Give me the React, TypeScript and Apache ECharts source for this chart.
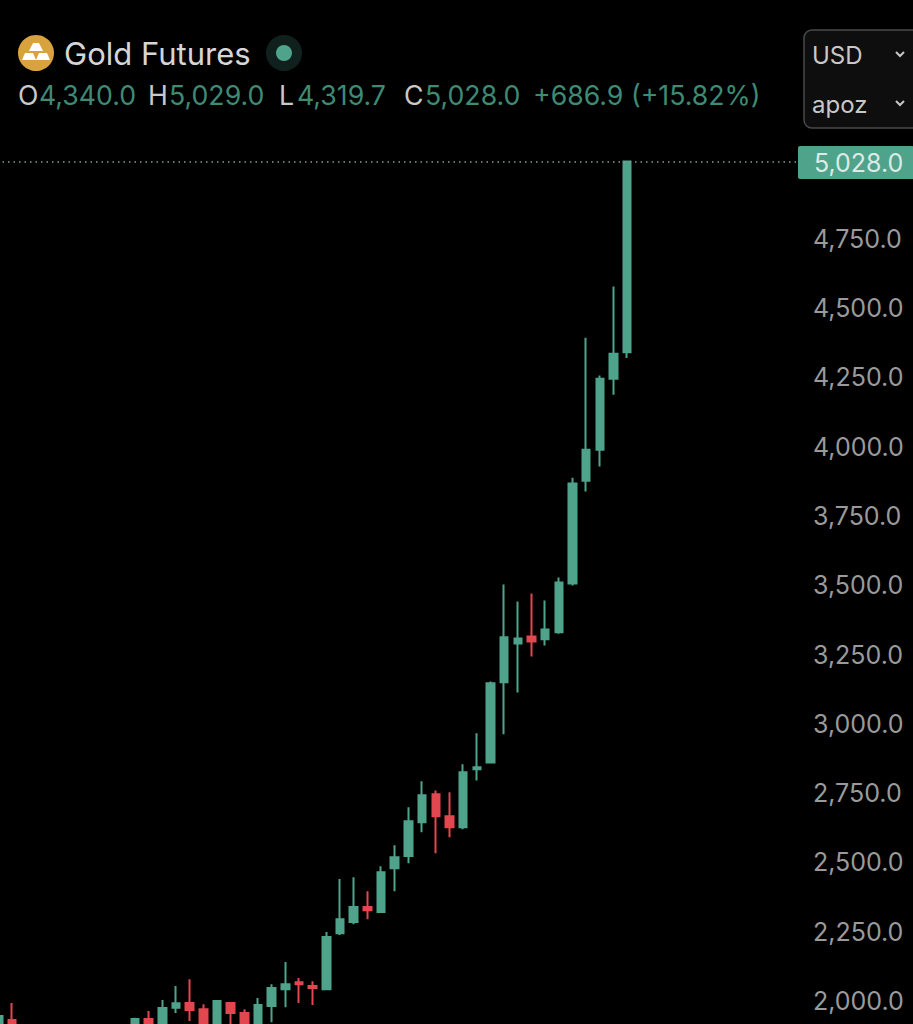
import React, { useEffect, useRef } from "react";
import * as echarts from "echarts";

const categories = [
  "2022-03","2022-04","2022-05","2022-06","2022-07","2022-08","2022-09","2022-10","2022-11","2022-12",
  "2023-01","2023-02","2023-03","2023-04","2023-05","2023-06","2023-07","2023-08","2023-09","2023-10","2023-11","2023-12",
  "2024-01","2024-02","2024-03","2024-04","2024-05","2024-06","2024-07","2024-08","2024-09","2024-10","2024-11","2024-12",
  "2025-01","2025-02","2025-03","2025-04","2025-05","2025-06","2025-07","2025-08","2025-09","2025-10","2025-11","2025-12",
  "2026-01","2026-02","2026-03","2026-04","2026-05","2026-06","2026-07","2026-08","2026-09","2026-10","2026-11","2026-12","2027-01",
];

const N = null;
const opens = [1900,1932,N,N,N,N,N,N,N,N,1900,1935,1900,1976,1993,1971,1900,1993,1957,1900,1982,2043,2068,2054,2043,2245,2285,2339,2321,2479,2523,2645,2746,2667,2627,2836,2861,3150,3290,3315,3305,3330,3506,3877,3989,4245,4340];
const closes = [1946,1880,N,N,N,N,N,N,N,N,1935,1900,1975,1992,1968,1900,2000,1957,1900,1986,2047,2061,2061,2047,2231,2295,2339,2328,2465,2519,2649,2742,2667,2627,2825,2843,3146,3312,3308,3297,3340,3510,3867,3989,4245,4335,5028];
const lows = [1880,1860,N,N,N,N,N,N,N,N,1890,1880,1880,1957,1928,1880,1890,1900,1890,1890,1924,1978,1993,1986,2040,2238,2277,2295,2318,2396,2497,2609,2533,2591,2620,2796,2858,2962,3113,3243,3283,3325,3499,3838,3928,4187,4319.7];
const highs = [1950,1993,N,N,N,N,N,N,N,N,1940,1964,2004,2054,2079,1989,2001,1993,1971,2011,2061,2141,2083,2072,2249,2440,2447,2396,2486,2562,2699,2793,2760,2753,2854,2966,3153,3503,3441,3470,3445,3528,3888,4393,4256,4577,5029];

const LAST_PRICE = 5028;
const UP = "#4fa38b";
const DOWN = "#e2474f";
const FONT = "Inter, 'Noto Sans', sans-serif";

const header = [
  { t: "O", x: 18, c: "#c9c9c9" },
  { t: "4,340.0", x: 39, c: "#3f8a73" },
  { t: "H", x: 148, c: "#c9c9c9" },
  { t: "5,029.0", x: 169, c: "#3f8a73" },
  { t: "L", x: 279, c: "#c9c9c9" },
  { t: "4,319.7", x: 297, c: "#3f8a73" },
  { t: "C", x: 404, c: "#c9c9c9" },
  { t: "5,028.0", x: 425, c: "#3f8a73" },
  { t: "+686.9 (+15.82%)", x: 533, c: "#3f8a73" },
];

export default function App() {
  const ref = useRef<HTMLDivElement>(null);
  useEffect(() => {
    document.body.style.margin = "0";
    document.body.style.background = "#000";
    const chart = echarts.init(ref.current!, null, { renderer: "svg" });
    const data = opens.map((o, i) =>
      o === null ? ["-", "-", "-", "-"] : [o, closes[i], lows[i], highs[i]]
    );
    const text = (t: string, x: number, y: number, size: number, fill: string, align = "left") => ({
      type: "text", x, y, style: { text: t, fill, fontSize: size, fontFamily: FONT, textAlign: align, textVerticalAlign: "middle" }, silent: true,
    });
    const chevron = (x: number, y: number) => ({
      type: "polyline", shape: { points: [[x - 4, y - 2], [x, y + 2], [x + 4, y - 2]] }, style: { stroke: "#c8c8c8", lineWidth: 2, fill: "none" },
    });
    chart.setOption({
      animation: false,
      backgroundColor: "#000",
      grid: { left: -8.5, top: -38.6, width: 806.5, height: 1109, outerBoundsMode: "none", containLabel: false },
      xAxis: { type: "category", data: categories, show: false, boundaryGap: true },
      yAxis: {
        type: "value", position: "right", min: 1750, max: 5750, interval: 250, scale: true,
        axisLine: { show: false }, axisTick: { show: false }, splitLine: { show: false },
        axisLabel: {
          color: "#9a9a9a", fontSize: 25, fontFamily: FONT, margin: 15,
          formatter: (v: number) => (v < 2000 || v > 4750 ? "" : v.toLocaleString("en-US", { minimumFractionDigits: 1 })),
        },
      },
      series: [{
        type: "candlestick", data, barWidth: 8, clip: true,
        itemStyle: { color: UP, color0: DOWN, borderColor: UP, borderColor0: DOWN, borderWidth: 2 },
        markLine: {
          silent: true, symbol: "none",
          lineStyle: { color: "#7f9f94", type: [1.5, 4], width: 1.5 },
          data: [{ yAxis: LAST_PRICE }],
          label: {
            show: true, position: "end", distance: 0, formatter: "5,028.0", color: "#dcebe6", fontSize: 25, fontFamily: FONT,
            backgroundColor: UP, padding: [3, 12, 2, 16], width: 88, height: 28, lineHeight: 28, borderRadius: 2, offset: [0, 1],
          },
        },
      }],
      graphic: [
        { type: "circle", shape: { cx: 36, cy: 53, r: 18 }, style: { fill: "#d8a33f" } },
        { type: "polygon", shape: { points: [[33, 43], [39, 43], [43, 51], [29, 51]] }, style: { fill: "#fff" } },
        { type: "polygon", shape: { points: [[25, 53], [33, 53], [36, 60], [22, 60]] }, style: { fill: "#fff" } },
        { type: "polygon", shape: { points: [[39, 53], [47, 53], [50, 60], [36, 60]] }, style: { fill: "#fff" } },
        text("Gold Futures", 64, 53, 31, "#d6d6d6"),
        { type: "circle", shape: { cx: 284, cy: 53, r: 18 }, style: { fill: "#10211d" } },
        { type: "circle", shape: { cx: 284, cy: 53, r: 8 }, style: { fill: UP } },
        ...header.map((h) => text(h.t, h.x, 95, 26.7, h.c)),
        { type: "rect", shape: { x: 804, y: 30, width: 120, height: 98, r: 8 }, style: { fill: "#0e0e0e", stroke: "#4a4a4a", lineWidth: 1.5 } },
        text("USD", 812, 55, 24, "#c8c8c8"),
        chevron(900, 54),
        text("apoz", 812, 104, 24, "#c8c8c8"),
        chevron(900, 103),
      ],
    });
    return () => chart.dispose();
  }, []);
  return <div ref={ref} style={{ width: 913, height: 1024 }} />;
}
